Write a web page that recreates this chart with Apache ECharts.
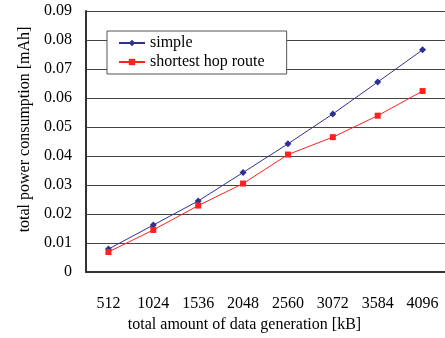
<!DOCTYPE html>
<html>
<head>
<meta charset="utf-8">
<script src="https://cdn.jsdelivr.net/npm/echarts@6/dist/echarts.min.js"></script>
<style>
  html, body { margin: 0; padding: 0; background: #fff; }
  #chart { width: 445px; height: 338px; }
</style>
</head>
<body>
<div id="chart"></div>
<script>
  // data
  var categories = ['512', '1024', '1536', '2048', '2560', '3072', '3584', '4096']
  var simple = [0.0079, 0.0162, 0.0245, 0.0343, 0.0442, 0.0545, 0.0655, 0.0766]
  var shortestHop = [0.0069, 0.0145, 0.0229, 0.0305, 0.0405, 0.0465, 0.0539, 0.0624]

  var font = 'Liberation Serif'
  var chart = echarts.init(document.getElementById('chart'))
  chart.setOption({
    animation: false,
    textStyle: { fontFamily: font },
    grid: { left: 86, right: 0, top: 11, bottom: 66 },
    legend: {
      orient: 'vertical',
      left: 107,
      top: 31,
      padding: [4, 22, 4, 11],
      itemGap: 3,
      itemWidth: 26,
      itemHeight: 8,
      backgroundColor: '#fff',
      borderColor: '#555',
      borderWidth: 1,
      textStyle: { fontFamily: font, fontSize: 16, color: '#000' },
      data: ['simple', 'shortest hop route']
    },
    xAxis: {
      type: 'category',
      data: categories,
      boundaryGap: true,
      name: 'total amount of data generation [kB]',
      nameLocation: 'middle',
      nameGap: 45,
      nameTextStyle: { fontFamily: font, fontSize: 16, color: '#000', padding: [0, 42, 0, 0] },
      axisLine: { lineStyle: { color: '#333', width: 2 } },
      axisTick: { inside: true, length: 6, lineStyle: { color: '#333' } },
      axisLabel: { margin: 24, fontSize: 16, color: '#000', fontFamily: font }
    },
    yAxis: {
      type: 'value',
      min: 0,
      max: 0.09,
      interval: 0.01,
      name: 'total power consumption [mAh]',
      nameLocation: 'middle',
      nameGap: 44,
      nameTextStyle: { fontFamily: font, fontSize: 16, color: '#000', padding: [0, 0, 0, 24] },
      axisLine: { show: true, lineStyle: { color: '#333', width: 2 } },
      axisTick: { show: false },
      axisLabel: {
        margin: 14,
        fontSize: 16,
        color: '#000',
        fontFamily: font,
        formatter: function (v) { return v === 0 ? '0' : v.toFixed(2) }
      },
      splitLine: { lineStyle: { color: '#444', width: 1 } }
    },
    series: [
      {
        name: 'simple',
        type: 'line',
        data: simple,
        symbol: 'diamond',
        symbolSize: 7,
        color: '#2e3192',
        lineStyle: { width: 1 }
      },
      {
        name: 'shortest hop route',
        type: 'line',
        data: shortestHop,
        symbol: 'rect',
        symbolSize: 6,
        color: '#ff2020',
        lineStyle: { width: 1 }
      }
    ]
  })
</script>
</body>
</html>
